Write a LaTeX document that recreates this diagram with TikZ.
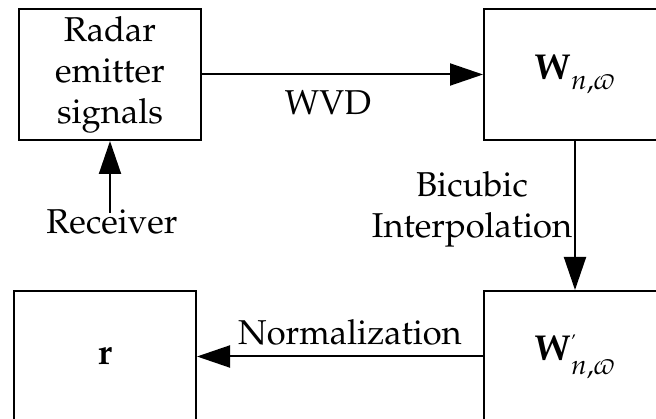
\documentclass[tikz,border=0pt]{standalone}
\usepackage[T1]{fontenc}
\usepackage{mathpazo}
\usetikzlibrary{arrows.meta}

% lowered subscript and small tick mark used for the matrix symbols
\newcommand{\lowsub}[1]{\lower5pt\hbox{$\scriptstyle #1$}}
\newcommand{\tick}{\hbox{\fontsize{18}{18}\selectfont '}}

\begin{document}
\begin{tikzpicture}[x=1pt,y=-1pt,
  every node/.style={inner sep=0pt, font=\fontsize{34.5}{41}\selectfont},
  block/.style={draw, line width=2pt, minimum width=182pt, minimum height=131pt, align=center},
  mathblock/.style={block, font=\fontsize{36}{41}\selectfont},
  caption/.style={anchor=base, align=center},
  flow/.style={line width=2pt, -{Triangle[length=33pt,width=22pt]}}]
  \path[use as bounding box, clip] (0,0) rectangle (656,419);

  % processing blocks
  \node[block] (radar) at (110,74.5) {Radar\\emitter\\signals};
  \node[mathblock] (wvd)  at (575,74.5) {$\mathbf{W}_{\lowsub{n,\varpi}}$};
  \node[mathblock] (wint) at (575,356.5) {$\mathbf{W}^{\tick}_{\lowsub{n,\varpi}}$};
  \node[mathblock] (rvec) at (105,356.5) {$\mathbf{r}$};

  % step labels
  \node[caption] (recv) at (112,234) {Receiver};
  \node[caption] (lwvd) at (328,115) {WVD};
  \node[caption] (lbic) at (472,238) {Bicubic\\Interpolation};
  \node[caption] (lnorm) at (350,345) {Normalization};

  % connectors
  \draw[flow] ([yshift=-3pt]recv.north -| radar.south) -- (radar.south);
  \draw[flow] (radar.east) -- (wvd.west);
  \draw[flow] (wvd.south) -- (wint.north);
  \draw[flow] (wint.west) -- (rvec.east);
\end{tikzpicture}
\end{document}
